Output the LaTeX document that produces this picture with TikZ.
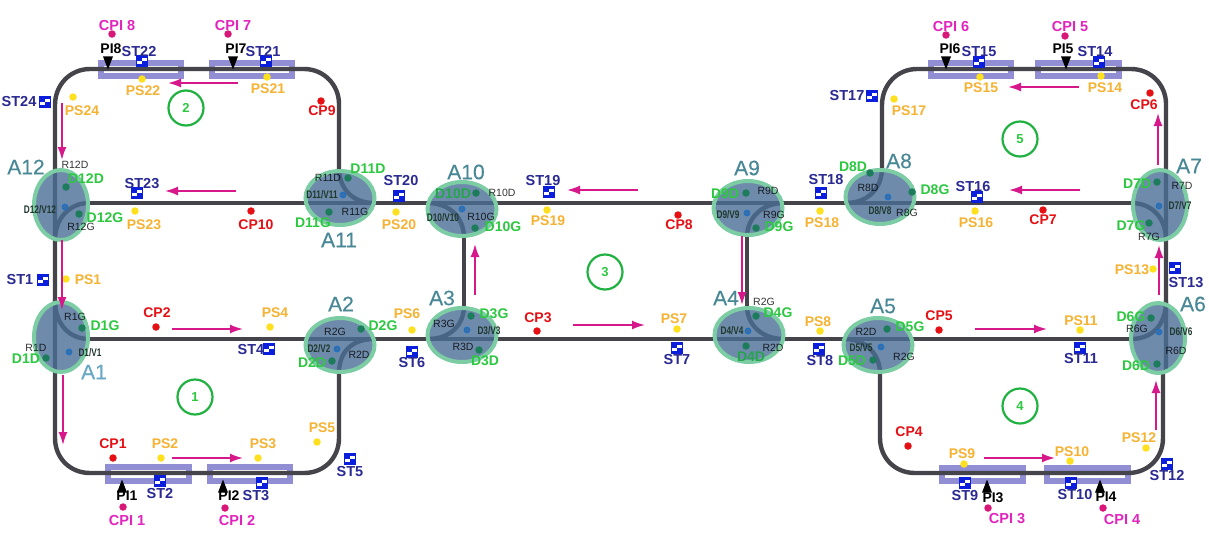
\documentclass[tikz,border=0pt]{standalone}
\usepackage{fontspec}
\usepackage{graphicx}
\setmainfont{Liberation Sans}
\newfontface\afont[FakeBold=0.25]{Liberation Sans}
\usetikzlibrary{arrows.meta,shapes.geometric}
\definecolor{trackc}{RGB}{68,68,74}
\definecolor{platc}{RGB}{146,142,212}
\definecolor{flowc}{RGB}{214,24,138}
\definecolor{cpic}{RGB}{226,36,190}
\definecolor{cpidot}{RGB}{216,24,120}
\definecolor{psc}{RGB}{246,178,50}
\definecolor{psdot}{RGB}{255,224,30}
\definecolor{cpc}{RGB}{228,16,20}
\definecolor{stc}{RGB}{42,42,146}
\definecolor{iconc}{RGB}{10,30,220}
\definecolor{dc}{RGB}{44,200,64}
\definecolor{dvc}{RGB}{30,56,44}
\definecolor{ddot}{RGB}{28,124,92}
\definecolor{ac}{RGB}{72,136,150}
\definecolor{aone}{RGB}{104,168,196}
\definecolor{ringc}{RGB}{32,178,64}
\definecolor{ellf}{RGB}{75,110,150}
\definecolor{elld}{RGB}{124,204,164}
\definecolor{cdot}{RGB}{30,112,196}
\tikzset{
  track/.style={draw=trackc,line width=4.4pt},
  trackin/.style={draw=trackc,line width=4.4pt},
  plat/.style={draw=platc,line width=6pt},
  flow/.style={draw=flowc,line width=1.8pt,-{Latex[length=13pt,width=9pt]}},
  txt/.style={inner sep=0pt,outer sep=0pt,font=\bfseries\fontsize{14}{14}\selectfont},
  cpilab/.style={txt,text=cpic,font=\bfseries\fontsize{14.5}{14.5}\selectfont},
  pslab/.style={txt,text=psc},
  cplab/.style={txt,text=cpc},
  stlab/.style={txt,text=stc,font=\bfseries\fontsize{14.5}{14.5}\selectfont},
  pilab/.style={txt,text=black},
  dlab/.style={txt,text=dc},
  dlabdim/.style={txt,text=dc!55!ddot},
  rlab/.style={inner sep=0pt,text=black,text opacity=.8,font=\fontsize{10.5}{10.5}\selectfont},
  dvlab/.style={inner sep=0pt,text=dvc,font=\bfseries\fontsize{11}{11}\selectfont},
  alab/.style={inner sep=0pt,text=ac,font=\afont\fontsize{21}{21}\selectfont},
  dotb/.style={circle,inner sep=0pt,minimum size=7.5pt},
  cpidotb/.style={dotb,fill=cpidot},
  psdotb/.style={dotb,fill=psdot},
  cpdotb/.style={dotb,fill=cpc},
  ddotb/.style={dotb,fill=ddot},
  cdotb/.style={circle,inner sep=0pt,minimum size=5.5pt,draw=cdot,line width=1.2pt,fill=ellf!70!cdot},
  junction/.style={ellipse,inner sep=0pt,fill=ellf,fill opacity=.8,draw=elld,draw opacity=1,line width=4pt},
  juncw/.style={junction,minimum width=54pt,minimum height=70pt},
  junch/.style={junction,minimum width=69pt,minimum height=54pt},
  ring/.style={circle,draw=ringc,line width=2.2pt,minimum size=35pt,inner sep=0pt,text=dc,font=\bfseries\fontsize{13}{13}\selectfont},
  sticon/.style={rectangle,draw=iconc,line width=1.3pt,fill=iconc,minimum width=11pt,minimum height=10pt,inner sep=0pt,
    path picture={\fill[white] (path picture bounding box.center) rectangle ++(5,-3);
                  \fill[white] (path picture bounding box.center) rectangle ++(-5,3);}},
  pidown/.style={isosceles triangle,isosceles triangle apex angle=42,shape border rotate=-90,fill=black,inner sep=0pt,minimum size=10pt},
  piup/.style={isosceles triangle,isosceles triangle apex angle=42,shape border rotate=90,fill=black,inner sep=0pt,minimum size=10pt},
}
\newcommand{\nar}[1]{\scalebox{.75}[1]{#1}}
\begin{document}
\begin{tikzpicture}[x=1pt,y=-1pt]
\useasboundingbox (0,0) rectangle (1209,544);
\fill[white] (0,0) rectangle (1209,544);

% platforms
\foreach \n/\a/\b/\c/\d in {p8/98/184/60/79,p7/209/295/60/79,p1/105/192/464/484,p2/207/293/464/484,
  p3/939/1026/465/484,p4/1044/1131/465/484,p6/928/1014/60/79,p5/1035/1122/60/79}{
  \coordinate (\n a) at (\a+3,\c+3);
  \coordinate (\n b) at (\b-3,\d-3);
  \draw[plat] (\n a) rectangle (\n b);
}

% track anchor points
\coordinate (tA) at (55,105);   \coordinate (tB) at (90,69);
\coordinate (tC) at (304,69);   \coordinate (tD) at (339,104);
\coordinate (tE) at (339,168);  \coordinate (tF) at (89,203);
\coordinate (tF2) at (1131,203);
\coordinate (tG) at (89,339);   \coordinate (tG2) at (1131,339);
\coordinate (tH) at (55,438);
\coordinate (tI) at (90,473);   \coordinate (tJ) at (304,473);
\coordinate (tK) at (339,438);  \coordinate (tL) at (339,373);
\coordinate (tM) at (464,238);  \coordinate (tN) at (464,306);
\coordinate (tO) at (747,237);  \coordinate (tP) at (747,306);
\coordinate (tQ) at (882,168);  \coordinate (tR) at (882,105);
\coordinate (tS) at (917,69);   \coordinate (tT) at (1131,69);
\coordinate (tU) at (1166,104); \coordinate (tW) at (1166,372);
\coordinate (tX) at (1163,372);
\coordinate (tY) at (1163,438); \coordinate (tZ) at (1128,473);
\coordinate (ua) at (915,473);  \coordinate (ub) at (880,438);
\coordinate (uc) at (880,374);

% main track
\draw[track] (tH) -- (tA) .. controls (55,85) and (70,69) .. (tB) -- (tC)
  .. controls (324,69) and (339,85) .. (tD) -- (tE);
\draw[track] (tF) -- (tF2);
\draw[track] (tG) -- (tG2);
\draw[track] (tH) .. controls (55,458) and (70,473) .. (tI) -- (tJ)
  .. controls (324,473) and (339,458) .. (tK) -- (tL);
\draw[track] (tM) -- (tN);
\draw[track] (tO) -- (tP);
\draw[track] (tQ) -- (tR) .. controls (882,85) and (897,69) .. (tS) -- (tT)
  .. controls (1151,69) and (1166,85) .. (tU) -- (tW);
\draw[track] (tX) -- (tY) .. controls (1163,458) and (1148,473) .. (tZ) -- (ua)
  .. controls (895,473) and (880,458) .. (ub) -- (uc);

% curved branches inside the junctions
\draw[trackin] (55,240) .. controls (55,218) and (70,203) .. (tF);
\draw[trackin] (55,300) .. controls (55,325) and (70,339) .. (tG);
\draw[trackin] (tL) .. controls (339,352) and (352,339) .. (374,339);
\draw[trackin] (tE) .. controls (339,188) and (352,203) .. (374,203);
\draw[trackin] (tM) .. controls (464,218) and (450,203) .. (428,203);
\draw[trackin] (tN) .. controls (464,325) and (450,339) .. (428,339);
\draw[trackin] (tO) .. controls (747,218) and (762,203) .. (784,203);
\draw[trackin] (tP) .. controls (747,325) and (762,339) .. (784,339);
\draw[trackin] (tQ) .. controls (882,188) and (868,203) .. (846,203);
\draw[trackin] (uc) .. controls (880,354) and (866,339) .. (844,339);
\draw[trackin] (1166,301) .. controls (1166,325) and (1152,339) .. (tG2);
\draw[trackin] (1166,240) .. controls (1166,218) and (1152,203) .. (tF2);

% junction discs
\foreach \n/\x/\y in {A12/61/205,A1/61/337,A7/1160/205,A6/1158/338}{
  \node[juncw] (\n) at (\x,\y) {};
}
\foreach \n/\x/\y in {A11/340/198,A2/340/345,A10/462/209,A3/462/335,A9/748/208,A4/749/335,A8/880/197,A5/878/345}{
  \node[junch] (\n) at (\x,\y) {};
}

% labels on the discs
\foreach \t/\x/\y in {R12D/75/165,R12G/81/227,R11D/328/178,R11G/355/212,R1G/75/317,R1D/36/348,R2G/335/332,R2D/359/355,
  R10D/502/193,R10G/481/217,R3G/444/324,R3D/463/347,R9D/768/191,R9G/774/215,R2G/764/302,R2D/773/348,
  R8D/868/188,R8G/907/213,R7D/1182/186,R7G/1149/237,R6G/1137/329,R6D/1176/351,R2D/866/332,R2G/904/357}{
  \node[rlab] (r\t\x) at (\x,\y) {\t};
}
\foreach \t/\x/\y in {D12D/86/179,D12G/105/218,D11D/368/169,D11G/313/223,D1G/105/326,D1D/26/359,D2G/383/326,D2D/312/363,
  D10G/503/227,D3G/494/314,D3D/485/361,D9D/725/194,D9G/779/227,D4G/778/313,
  D8D/853/167,D8G/935/190,D7D/1137/184,D7G/1131/226,D6G/1131/317,D6D/1136/366,D5G/910/327,D5D/852/361}{
  \node[dlab] (l\t) at (\x,\y) {\t};
}
\node[dlabdim] (lD10D) at (453,194) {D10D};
\node[dlabdim] (lD4D) at (751,357) {D4D};
\foreach \n/\t/\x/\y in {a/D12\slash V12/40/210,b/D11\slash V11/322/195,c/D1\slash V1/90/353,d/D2\slash V2/319/349,
  e/D10\slash V10/443/218,f/D3\slash V3/489/331,g/D9\slash V9/728/215,h/D4\slash V4/732/331,
  i/D8\slash V8/880/211,j/D7\slash V7/1180/206,k/D6\slash V6/1181/332,m/D5\slash V5/861/348}{
  \node[dvlab] (dv\n) at (\x,\y) {\nar{\t}};
}

% dots on the discs
\foreach \n/\x/\y in {D12D/66/187,D12G/79/214,D11D/348/178,D11G/329/212,D1G/82/328,D1D/46/358,D2G/361/329,D2D/332/361,
  D10D/476/193,D10G/475/228,D3G/471/316,D3D/479/350,D9D/746/193,D9G/756/228,D4G/756/316,D4D/746/346,
  D8D/870/173,D8G/912/192,D7D/1157/182,D7G/1149/223,D6G/1151/318,D6D/1157/364,D5G/887/329,D5D/873/360}{
  \node[ddotb] (dot\n) at (\x,\y) {};
}
\foreach \n/\x/\y in {12/65/207,11/343/195,1/69/352,2/337/349,10/462/209,3/467/330,9/747/213,4/748/331,8/888/197,7/1159/206,6/1159/332,5/881/347}{
  \node[cdotb] (c\n) at (\x,\y) {};
}

% junction names
\foreach \t/\x/\y in {A12/26/167,A11/339/240,A2/341/304,A10/466/172,A3/442/298,A9/747/168,A4/726/298,A8/899/161,A7/1189/166,A6/1193/304,A5/883/306}{
  \node[alab] (name\t) at (\x,\y) {\t};
}
\node[alab,text=aone] (nameA1) at (94,372) {A1};

% CPI
\foreach \n/\x/\y/\lx/\ly in {8/112/34/117/26,7/228/34/233/26,1/123/507/127/520,2/225/508/237/520,
  3/988/508/1007/519,4/1103/508/1122/519,6/946/35/951/27,5/1065/36/1070/27}{
  \node[cpilab] (cpil\n) at (\lx,\ly) {CPI \n};
  \node[cpidotb] (cpi\n) at (\x,\y) {};
}
% PI
\foreach \n/\x/\lx in {8/108/111,7/233/236,6/946/950,5/1066/1063}{
  \node[pidown,anchor=apex] (pit\n) at (\x,70) {};
  \node[pilab] (pi\n) at (\lx,49) {PI\n};
}
\foreach \n/\x/\lx/\ly in {1/122/127/496,2/223/229/496,3/987/993/498,4/1100/1106/497}{
  \node[piup,anchor=apex] (pit\n) at (\x,479) {};
  \node[pilab] (pi\n) at (\lx,\ly) {PI\n};
}
% ST
\foreach \n/\x/\y/\lx/\ly in {22/142/61/139/52,21/266/61/263/52,24/45/102/19/102,23/137/193/142/184,20/399/196/401/181,
  1/43/280/20/280,4/269/349/251/350,2/160/481/160/493,3/262/483/256/496,5/350/459/350/471,6/412/352/412/363,
  19/549/192/543/181,7/677/348/677/360,18/821/193/826/180,8/819/349/820/361,16/977/197/973/187,17/872/96/847/96,
  15/979/62/979/52,14/1099/62/1095/52,13/1175/268/1186/283,11/1080/348/1081/359,12/1167/464/1167/475,9/965/483/965/495,10/1071/483/1075/494}{
  \node[sticon] (st\n) at (\x,\y) {};
  \node[stlab] (stl\n) at (\lx,\ly) {ST\n};
}
% PS
\foreach \n/\x/\y/\lx/\ly in {22/142/79/143/91,21/267/77/268/89,24/73/97/82/111,23/135/211/144/225,20/396/212/399/225,
  1/66/279/88/280,4/270/327/275/313,2/161/458/165/444,3/258/458/263/444,5/317/442/322/428,6/412/330/407/314,
  19/547/210/548/221,7/677/329/674/319,18/820/211/822/223,8/820/331/818/322,16/975/211/976/223,17/894/99/909/111,
  15/980/77/981/88,14/1101/76/1105/88,13/1153/269/1132/270,11/1080/330/1081/321,12/1146/448/1139/438,9/964/464/962/454,10/1070/461/1072/452}{
  \node[psdotb] (ps\n) at (\x,\y) {};
  \node[pslab] (psl\n) at (\lx,\ly) {PS\n};
}
% CP
\foreach \n/\x/\y/\lx/\ly in {9/321/101/322/111,10/251/211/256/225,2/156/327/157/313,1/113/458/113/444,3/537/331/538/318,
  8/678/215/679/225,7/1043/210/1043/220,6/1150/93/1144/105,5/939/330/939/316,4/908/446/909/432}{
  \node[cpdotb] (cp\n) at (\x,\y) {};
  \node[cplab] (cpl\n) at (\lx,\ly) {CP\n};
}
% zone rings
\foreach \n/\x/\y in {2/186/108,1/195/397,3/605/272,5/1020/139,4/1020/406}{
  \node[ring] (zone\n) at (\x,\y) {\n};
}
% direction arrows
\foreach \n/\a/\b/\c/\d in {1/238/83/168/83,2/236/191/165/191,3/62/103/62/160,4/62/240/62/310,5/63/375/63/445,
  6/172/329/243/329,7/172/458/243/458,8/573/325/645/325,9/475/295/475/244,10/638/190/567/190,11/742/236/742/305,
  12/975/329/1047/329,13/984/458/1055/458,14/1156/430/1156/380,15/1159/295/1159/245,16/1158/165/1158/113,
  17/1079/87/1008/87,18/1080/190/1009/190}{
  \coordinate (fs\n) at (\a,\b);
  \coordinate (fe\n) at (\c,\d);
  \draw[flow] (fs\n) -- (fe\n);
}
\end{tikzpicture}
\end{document}
